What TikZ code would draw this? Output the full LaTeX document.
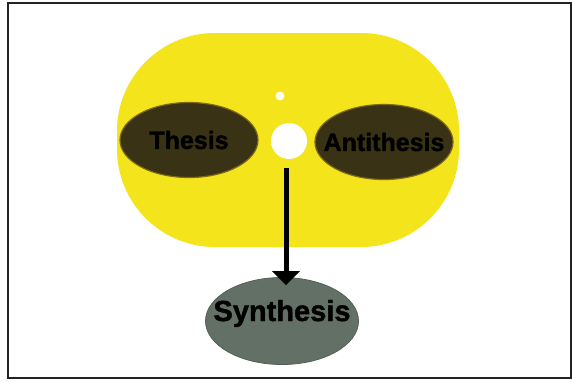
\documentclass[tikz,border=0pt]{standalone}
\usepackage{fontspec}
\setmainfont{Liberation Sans}
\newfontfamily\heavyfont{Liberation Sans Bold}[FakeBold=1.5]
\usetikzlibrary{shapes.geometric,arrows.meta}
\definecolor{bgyellow}{RGB}{244,228,28}
\definecolor{darkolive}{RGB}{58,50,20}
\definecolor{olivedge}{RGB}{125,105,25}
\definecolor{synfill}{RGB}{98,112,102}
\definecolor{frameclr}{RGB}{35,35,35}
\tikzset{
  idea/.style={ellipse, fill=darkolive, draw=olivedge, line width=1.2pt, inner sep=0pt,
    font=\heavyfont\fontsize{25}{25}\selectfont, text=black},
  synth/.style={ellipse, fill=synfill, draw=synfill!85!black, line width=0.8pt, inner sep=0pt,
    font=\heavyfont\fontsize{29}{29}\selectfont, text=black},
  flow/.style={draw=black, line width=5pt, -{Triangle[length=14pt,width=27pt]}}
}
\begin{document}
\begin{tikzpicture}[x=1pt,y=-1pt]
\useasboundingbox (0,0) rectangle (572,381);
\fill[white] (0,0) rectangle (572,381);
\draw[frameclr, line width=2pt] (8,3) rectangle (571,378);
% yellow background
\fill[bgyellow, rounded corners=98pt] (117,33) rectangle (459,247);
% white spark
\fill[white] (289,141) circle (18pt);
\fill[white!92!bgyellow] (280,96) circle (4.5pt);
% ideas
\node[idea, minimum width=138pt, minimum height=75pt] (thesis) at (189,140) {\makebox[0pt]{Thesis}};
\node[idea, minimum width=138pt, minimum height=75pt] (anti) at (384,142) {\makebox[0pt]{Antithesis}};
\node[synth, minimum width=153pt, minimum height=87pt] (syn) at (282,321) {\makebox[0pt]{\smash{Synthesis}}};
\coordinate (spark) at (286,168);
\draw[flow] (spark) -- ([yshift=-8pt]syn.north -| spark);
\end{tikzpicture}
\end{document}
